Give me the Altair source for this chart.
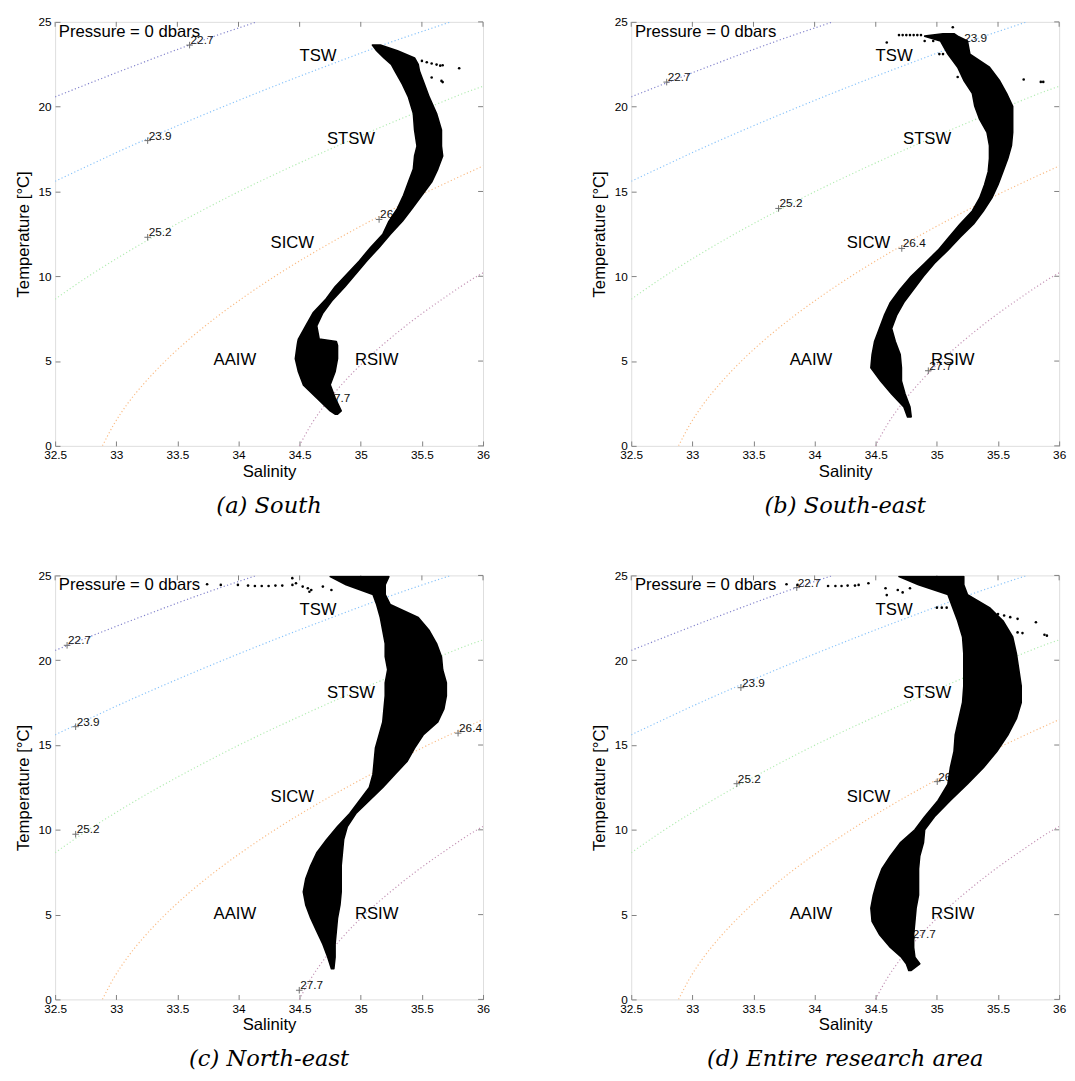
import altair as alt
import pandas as pd

# ---------------- axes ----------------
S_DOMAIN = [32.5, 36.0]
T_DOMAIN = [0.0, 25.0]
S_TICKS = [32.5, 33, 33.5, 34, 34.5, 35, 35.5, 36]
T_TICKS = [0, 5, 10, 15, 20, 25]

# ---------------- isopycnals (sigma-0) ----------------
ISO_LEVELS = ["22.7", "23.9", "25.2", "26.4", "27.7"]
ISO_COLORS = ["#8282cc", "#86c2fa", "#b2ecb2", "#fabb84", "#c494b6"]
ISO_227_S = [32.5, 32.735, 33.18, 33.643, 34.149]
ISO_227_T = [20.58, 21.25, 22.5, 23.75, 25.0]
ISO_239_S = [32.5, 32.69, 33.064, 33.46, 33.874, 34.306, 34.757, 35.225, 35.737]
ISO_239_T = [15.6, 16.25, 17.5, 18.75, 20.0, 21.25, 22.5, 23.75, 25.0]
ISO_252_S = [32.5, 32.773, 33.05, 33.348, 33.668, 34.005, 34.369, 34.75, 35.151, 35.57, 35.92, 36.0]
ISO_252_T = [8.65, 10.0, 11.25, 12.5, 13.75, 15.0, 16.25, 17.5, 18.75, 20.0, 21.0, 21.2]
ISO_264_S = [32.887, 32.979, 33.094, 33.236, 33.401, 33.59, 33.803, 34.04, 34.298, 34.58, 34.884, 35.208, 35.55, 35.771, 36.0]
ISO_264_T = [0.0, 1.25, 2.5, 3.75, 5.0, 6.25, 7.5, 8.75, 10.0, 11.25, 12.5, 13.75, 15.0, 15.75, 16.5]
ISO_277_S = [34.497, 34.594, 34.715, 34.861, 35.031, 35.227, 35.444, 35.687, 35.951, 36.0]
ISO_277_T = [0.0, 1.25, 2.5, 3.75, 5.0, 6.25, 7.5, 8.75, 10.0, 10.2]

# ---------------- water-mass labels ----------------
WM_NAMES = ["TSW", "STSW", "SICW", "AAIW", "RSIW"]
WM_S = [34.65, 34.92, 34.44, 33.97, 35.13]
WM_T = [22.98, 18.07, 11.94, 5.05, 5.05]
PRESSURE_TEXT = ["Pressure = 0 dbars"]
PRESSURE_S = [32.53]
PRESSURE_T = [24.42]

# ---------------- panel (a) South ----------------
CAP_A = "(a) South"
CL_A_S = [33.60, 33.257, 33.257, 35.15, 34.72]
CL_A_T = [23.63, 18.0, 12.3, 13.35, 2.54]
BAND_A_T = [1.87, 2.06, 2.83, 3.6, 4.37, 5.14, 5.92, 6.15, 6.3, 7.07, 7.84, 8.61, 9.38, 10.15, 10.92, 11.7,
            12.47, 13.24, 14.0, 14.78, 15.55, 16.32, 17.09, 17.67, 18.63, 19.6, 20.56, 21.33, 22.1, 22.5,
            22.87, 23.3, 23.64]
BAND_A_SMIN = [34.79, 34.75, 34.64, 34.53, 34.49, 34.465, 34.48, 34.485, 34.49, 34.55, 34.61, 34.71, 34.79,
               34.89, 34.99, 35.08, 35.18, 35.23, 35.30, 35.35, 35.39, 35.43, 35.44, 35.46, 35.44, 35.43,
               35.39, 35.34, 35.28, 35.25, 35.19, 35.13, 35.095]
BAND_A_SMAX = [34.81, 34.84, 34.79, 34.75, 34.79, 34.81, 34.81, 34.80, 34.66, 34.64, 34.69, 34.77, 34.87,
               34.96, 35.05, 35.15, 35.24, 35.34, 35.42, 35.50, 35.58, 35.63, 35.67, 35.66, 35.66, 35.62,
               35.56, 35.52, 35.48, 35.47, 35.44, 35.30, 35.16]
OUT_A_S = [35.50, 35.54, 35.58, 35.62, 35.65, 35.67, 35.805, 35.58, 35.66, 35.67, 35.47]
OUT_A_T = [22.70, 22.62, 22.55, 22.48, 22.42, 22.44, 22.27, 21.72, 21.52, 21.45, 22.0]

# ---------------- panel (b) South-east ----------------
CAP_B = "(b) South-east"
CL_B_S = [32.79, 35.215, 33.705, 34.713, 34.93]
CL_B_T = [21.45, 23.75, 14.0, 11.64, 4.43]
BAND_B_T = [1.71, 2.29, 3.06, 3.83, 4.6, 5.38, 6.15, 6.92, 7.69, 8.46, 9.23, 10.0, 10.77, 11.54, 12.31,
            13.08, 13.85, 14.62, 15.4, 16.17, 16.94, 17.71, 18.48, 19.25, 20.02, 20.79, 21.56, 22.33,
            23.1, 23.87, 24.16, 24.3]
BAND_B_SMIN = [34.76, 34.73, 34.63, 34.54, 34.46, 34.47, 34.49, 34.53, 34.57, 34.62, 34.70, 34.79, 34.90,
               35.01, 35.10, 35.19, 35.29, 35.35, 35.39, 35.42, 35.43, 35.43, 35.41, 35.35, 35.31, 35.29,
               35.22, 35.17, 35.09, 35.03, 34.90, 35.05]
BAND_B_SMAX = [34.79, 34.78, 34.74, 34.71, 34.71, 34.70, 34.66, 34.63, 34.67, 34.73, 34.81, 34.89, 34.98,
               35.09, 35.19, 35.30, 35.38, 35.45, 35.50, 35.54, 35.58, 35.61, 35.62, 35.62, 35.62, 35.57,
               35.51, 35.43, 35.27, 35.25, 35.17, 35.14]
OUT_B_S = [34.69, 34.72, 34.75, 34.78, 34.81, 34.84, 34.87, 34.59, 34.90, 34.97, 35.02, 35.05,
           35.17, 35.71, 35.85, 35.87, 35.13]
OUT_B_T = [24.22, 24.22, 24.22, 24.22, 24.22, 24.22, 24.22, 23.78, 23.87, 23.87, 23.1, 23.1,
           21.75, 21.6, 21.46, 21.46, 24.68]

# ---------------- panel (c) North-east ----------------
CAP_C = "(c) North-east"
CL_C_S = [32.598, 32.668, 32.668, 35.796, 34.497]
CL_C_T = [20.88, 16.08, 9.74, 15.7, 0.54]
BAND_C_T = [1.81, 2.49, 3.26, 4.03, 4.8, 5.57, 6.34, 7.11, 7.88, 8.65, 9.42, 10.19, 10.96, 11.73, 12.5,
            13.28, 14.05, 14.82, 15.59, 16.36, 17.13, 17.9, 18.67, 19.44, 20.21, 20.98, 21.75, 22.52,
            23.29, 23.87, 24.45, 24.93]
BAND_C_SMIN = [34.76, 34.73, 34.69, 34.64, 34.59, 34.55, 34.53, 34.55, 34.59, 34.64, 34.72, 34.81, 34.91,
               34.99, 35.07, 35.10, 35.11, 35.12, 35.15, 35.18, 35.19, 35.20, 35.20, 35.22, 35.20, 35.20,
               35.18, 35.16, 35.13, 35.10, 34.88, 34.75]
BAND_C_SMAX = [34.78, 34.79, 34.79, 34.80, 34.81, 34.83, 34.84, 34.84, 34.84, 34.85, 34.86, 34.89, 34.96,
               35.07, 35.18, 35.28, 35.38, 35.44, 35.51, 35.63, 35.68, 35.70, 35.70, 35.67, 35.66, 35.62,
               35.56, 35.47, 35.24, 35.20, 35.20, 35.23]
OUT_C_S = [33.743, 33.855, 33.995, 34.078, 34.134, 34.19, 34.246, 34.302, 34.358, 34.441, 34.47,
           34.525, 34.567, 34.595, 34.58, 34.69, 34.76, 34.44]
OUT_C_T = [24.48, 24.44, 24.44, 24.40, 24.38, 24.38, 24.38, 24.40, 24.40, 24.44, 24.54,
           24.34, 24.24, 24.14, 24.04, 24.34, 24.14, 24.84]

# ---------------- panel (d) Entire research area ----------------
CAP_D = "(d) Entire research area"
CL_D_S = [33.854, 33.397, 33.364, 35.003, 34.795]
CL_D_T = [24.28, 18.38, 12.72, 12.84, 3.58]
BAND_D_T = [1.71, 2.1, 2.49, 3.06, 3.83, 4.6, 5.38, 6.15, 6.92, 7.69, 8.46, 9.23, 10.0, 10.77, 11.73,
            12.7, 13.66, 14.62, 15.59, 16.55, 17.51, 18.48, 19.44, 20.4, 21.37, 22.33, 23.1, 23.87,
            24.45, 24.93]
BAND_D_SMIN = [34.77, 34.75, 34.71, 34.62, 34.53, 34.47, 34.46, 34.48, 34.51, 34.55, 34.62, 34.70, 34.82,
               34.90, 35.01, 35.09, 35.11, 35.14, 35.15, 35.18, 35.21, 35.22, 35.22, 35.22, 35.21, 35.17,
               35.13, 35.09, 34.85, 34.69]
BAND_D_SMAX = [34.79, 34.86, 34.82, 34.81, 34.81, 34.82, 34.83, 34.85, 34.85, 34.85, 34.86, 34.89, 34.90,
               34.98, 35.11, 35.25, 35.38, 35.49, 35.58, 35.65, 35.69, 35.69, 35.67, 35.65, 35.62, 35.54,
               35.43, 35.25, 35.22, 35.22]
OUT_D_S = [33.77, 33.86, 34.11, 34.17, 34.22, 34.27, 34.33, 34.36, 34.44, 34.58, 34.59, 34.68, 34.78,
           34.72, 35.0, 35.04, 35.08, 35.55, 35.60, 35.66, 35.81, 35.88, 35.90, 35.66, 35.70, 35.45, 35.50]
OUT_D_T = [24.48, 24.44, 24.38, 24.38, 24.38, 24.40, 24.40, 24.44, 24.54, 24.24, 23.84, 24.14, 24.24,
           24.0, 23.1, 23.1, 23.1, 22.64, 22.54, 22.44, 22.24, 21.5, 21.45, 21.64, 21.6, 22.8, 22.72]

# ---------------- build shared tables ----------------
iso_rows = []
for lev, s_list, t_list in zip(ISO_LEVELS,
                               [ISO_227_S, ISO_239_S, ISO_252_S, ISO_264_S, ISO_277_S],
                               [ISO_227_T, ISO_239_T, ISO_252_T, ISO_264_T, ISO_277_T]):
    for i, (s, t) in enumerate(zip(s_list, t_list)):
        iso_rows.append({"level": lev, "S": s, "T": t, "i": i})
iso_df = pd.DataFrame(iso_rows)
wm_df = pd.DataFrame({"name": WM_NAMES, "S": WM_S, "T": WM_T})
pr_df = pd.DataFrame({"txt": PRESSURE_TEXT, "S": PRESSURE_S, "T": PRESSURE_T})
sticks_df = pd.DataFrame({"S": S_TICKS})
tticks_df = pd.DataFrame({"T": T_TICKS})

FRAME = "#808080"
W, H = 436, 432
TICK = 5


def make_panel(caption, cl_s, cl_t, band_t, band_smin, band_smax, out_s, out_t):
    xs = alt.Scale(domain=S_DOMAIN, nice=False, zero=False)
    ys = alt.Scale(domain=T_DOMAIN, nice=False, zero=False)
    x_bottom = alt.Axis(orient="bottom", values=S_TICKS, format="~g", title="Salinity",
                        offset=-TICK, tickSize=TICK, tickColor=FRAME, domain=False, grid=False,
                        labelPadding=4, labelFont="Liberation Sans", labelFontSize=12,
                        labelColor="black", titleFont="Liberation Sans", titleFontSize=17,
                        titleFontWeight="normal", titleColor="black", titlePadding=3,
                        labelFlush=False, labelOverlap=False, minExtent=0)
    y_left = alt.Axis(orient="left", values=T_TICKS, format="~g", title="Temperature [°C]",
                      offset=-TICK, tickSize=TICK, tickColor=FRAME, domain=False, grid=False,
                      labelPadding=4, labelFont="Liberation Sans", labelFontSize=12,
                      labelColor="black", titleFont="Liberation Sans", titleFontSize=17,
                      titleFontWeight="normal", titleColor="black", titlePadding=6,
                      labelFlush=False, labelOverlap=False, minExtent=0)

    iso = alt.Chart(iso_df).mark_line(strokeDash=[1.2, 2.4], strokeWidth=1.2, clip=True,
                                      interpolate="monotone").encode(
        x=alt.X("S:Q", scale=xs, axis=x_bottom),
        y=alt.Y("T:Q", scale=ys, axis=y_left),
        color=alt.Color("level:N", scale=alt.Scale(domain=ISO_LEVELS, range=ISO_COLORS), legend=None),
        order=alt.Order("i:Q"),
    )
    # inward tick marks on the top and right edges (MATLAB box style)
    top_ticks = alt.Chart(sticks_df).mark_rule(color=FRAME, strokeWidth=1).encode(
        x=alt.X("S:Q", scale=xs, axis=None),
        y=alt.value(0), y2=alt.value(TICK),
    )
    right_ticks = alt.Chart(tticks_df).mark_rule(color=FRAME, strokeWidth=1).encode(
        y=alt.Y("T:Q", scale=ys, axis=None),
        x=alt.value(W - TICK), x2=alt.value(W),
    )
    cl_df = pd.DataFrame({"S": cl_s, "T": cl_t, "lab": ISO_LEVELS})
    marks = alt.Chart(cl_df).mark_point(shape="M-1,0L1,0M0,-1L0,1", size=45, filled=False,
                                        stroke="#333333", strokeWidth=1).encode(
        x=alt.X("S:Q", scale=xs, axis=None),
        y=alt.Y("T:Q", scale=ys, axis=None),
    )
    labs = alt.Chart(cl_df).mark_text(align="left", baseline="bottom", dx=1, dy=2,
                                      font="Liberation Sans", fontSize=12, color="#111111").encode(
        x=alt.X("S:Q", scale=xs, axis=None),
        y=alt.Y("T:Q", scale=ys, axis=None),
        text="lab:N",
    )
    band_df = pd.DataFrame({"T": band_t, "Smin": band_smin, "Smax": band_smax})
    band = alt.Chart(band_df).mark_area(orient="horizontal", color="black", stroke="black",
                                        strokeWidth=1.6, strokeJoin="round", clip=True).encode(
        y=alt.Y("T:Q", scale=ys, axis=None),
        x=alt.X("Smin:Q", scale=xs, axis=None),
        x2="Smax:Q",
    )
    out_df = pd.DataFrame({"S": out_s, "T": out_t})
    outs = alt.Chart(out_df).mark_circle(size=7, color="black", opacity=1).encode(
        x=alt.X("S:Q", scale=xs, axis=None),
        y=alt.Y("T:Q", scale=ys, axis=None),
    )
    wm = alt.Chart(wm_df).mark_text(font="Liberation Sans", fontSize=17, color="black").encode(
        x=alt.X("S:Q", scale=xs, axis=None),
        y=alt.Y("T:Q", scale=ys, axis=None),
        text="name:N",
    )
    pr = alt.Chart(pr_df).mark_text(align="left", baseline="middle", font="Liberation Sans",
                                    fontSize=17, color="black").encode(
        x=alt.X("S:Q", scale=xs, axis=None),
        y=alt.Y("T:Q", scale=ys, axis=None),
        text="txt:N",
    )
    return alt.layer(iso, top_ticks, right_ticks, marks, labs, band, outs, wm, pr).resolve_axis(
        x="independent", y="independent"
    ).properties(
        width=W, height=H,
        title=alt.TitleParams(text=caption, orient="bottom", anchor="middle", font="DejaVu Serif",
                              fontSize=23, fontStyle="italic", fontWeight="normal", color="black",
                              offset=16),
    )


pa = make_panel(CAP_A, CL_A_S, CL_A_T, BAND_A_T, BAND_A_SMIN, BAND_A_SMAX, OUT_A_S, OUT_A_T)
pb = make_panel(CAP_B, CL_B_S, CL_B_T, BAND_B_T, BAND_B_SMIN, BAND_B_SMAX, OUT_B_S, OUT_B_T)
pc = make_panel(CAP_C, CL_C_S, CL_C_T, BAND_C_T, BAND_C_SMIN, BAND_C_SMAX, OUT_C_S, OUT_C_T)
pd_ = make_panel(CAP_D, CL_D_S, CL_D_T, BAND_D_T, BAND_D_SMIN, BAND_D_SMAX, OUT_D_S, OUT_D_T)

chart = alt.vconcat(
    alt.hconcat(pa, pb, spacing=101),
    alt.hconcat(pc, pd_, spacing=101),
    spacing=51,
).properties(
    padding={"left": 6, "top": -3, "right": 0, "bottom": 0}
).configure_view(stroke=FRAME, strokeWidth=1).configure(background="white")

chart.save("out.html", embed_options={"renderer": "svg", "actions": False})
